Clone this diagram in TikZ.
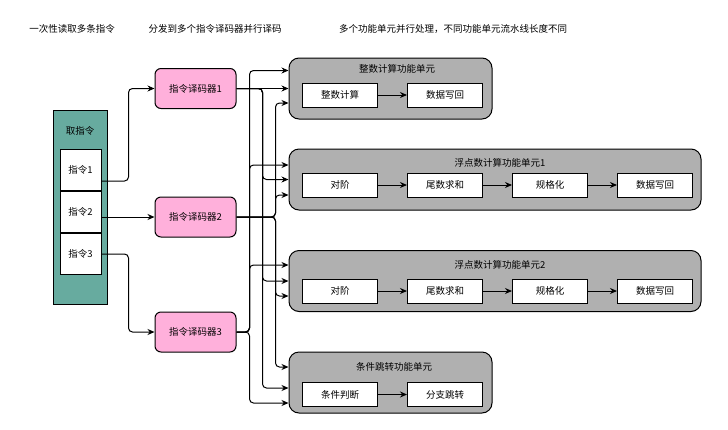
\documentclass[tikz,border=0pt]{standalone}
\usepackage{fontspec}
\setmainfont{Noto Sans CJK SC}
\usetikzlibrary{positioning, arrows.meta}
\definecolor{fetchgreen}{HTML}{67AB9F}
\definecolor{decpink}{HTML}{FFB0DB}
\definecolor{unitgray}{HTML}{B0B0B0}

\begin{document}
\begin{tikzpicture}[x=1pt, y=-1pt, > = {Stealth[length=7pt, width=6pt]},
    font=\fontsize{9.5}{11}\selectfont, line width=1pt,
    fetch/.style={draw, fill=fetchgreen, minimum width=54pt, minimum height=194pt},
    slot/.style={draw, fill=white, minimum width=41pt, minimum height=41pt, inner sep=0pt},
    decoder/.style={draw, fill=decpink, rounded corners=6pt, minimum width=81pt, minimum height=40pt},
    unit/.style={draw, fill=unitgray, rounded corners=10pt, minimum height=61pt},
    stage/.style={draw, fill=white, minimum width=75pt, minimum height=24pt, inner sep=0pt},
    bus/.style={->, rounded corners=4pt}
]
    \useasboundingbox (0,0) rectangle (728,429);

    % legendas
    \node (cap1) at (72,29) {一次性读取多条指令};
    \node (cap2) at (215,29) {分发到多个指令译码器并行译码};
    \node (cap3) at (453,29) {多个功能单元并行处理，不同功能单元流水线长度不同};

    % 取指令
    \node [fetch] (fetch) at (80,207) {};
    \node (fetchlbl) at (80,131) {取指令};
    \node [slot] (i1) at (80.5,170) {指令1};
    \node [slot, below=0pt of i1] (i2) {指令2};
    \node [slot, below=0pt of i2] (i3) {指令3};

    % 译码器
    \node [decoder] (d1) at (195.5,88.5) {指令译码器1};
    \node [decoder] (d2) at (195.5,217) {指令译码器2};
    \node [decoder] (d3) at (195.5,332) {指令译码器3};

    % 功能单元
    \node [unit, minimum width=203pt] (u1) at (390.5,88.5) {};
    \node [unit, minimum width=412pt] (u2) at (495,179.5) {};
    \node [unit, minimum width=412pt] (u3) at (495,281) {};
    \node [unit, minimum width=203pt] (u4) at (390.5,382.5) {};

    \node (u1t) at (397,69) {整数计算功能单元};
    \node (u2t) at (500,163) {浮点数计算功能单元1};
    \node (u3t) at (500,265) {浮点数计算功能单元2};
    \node (u4t) at (394,367) {条件跳转功能单元};

    \node [stage] (s11) at (340,95) {整数计算};
    \node [stage, right=29pt of s11] (s12) {数据写回};

    \node [stage] (s21) at (340,185) {对阶};
    \node [stage, right=29pt of s21] (s22) {尾数求和};
    \node [stage, right=29pt of s22] (s23) {规格化};
    \node [stage, right=29pt of s23] (s24) {数据写回};

    \node [stage] (s31) at (340,291) {对阶};
    \node [stage, right=29pt of s31] (s32) {尾数求和};
    \node [stage, right=29pt of s32] (s33) {规格化};
    \node [stage, right=29pt of s33] (s34) {数据写回};

    \node [stage] (s41) at (340,394.5) {条件判断};
    \node [stage, right=29pt of s41] (s42) {分支跳转};

    % pipeline
    \draw [->] (s11) -- (s12);
    \draw [->] (s21) -- (s22);
    \draw [->] (s22) -- (s23);
    \draw [->] (s23) -- (s24);
    \draw [->] (s31) -- (s32);
    \draw [->] (s32) -- (s33);
    \draw [->] (s33) -- (s34);
    \draw [->] (s41) -- (s42);

    % 取指令 -> 译码器
    \draw [bus] ([yshift=-11pt]i1.east) -- ++(27,0) |- (d1.west);
    \draw [->] (i2.east |- d2.west) -- (d2.west);
    \draw [bus] (i3.east) -- ++(27,0) |- (d3.west);

    % 译码器 -> 功能单元
    \draw [->] (d1.east) -- (u1.west |- d1.east);
    \draw [bus] (d1.east) -- ++(26,0) |- (u2.west);
    \draw [bus] (d1.east) -- ++(26,0) |- (u3.west);
    \draw [bus] (d1.east) -- ++(26,0) |- ([yshift=-5.5pt]u4.west);

    \draw [bus] (d2.east) -- ++(39,0) |- ([yshift=-14.5pt]u1.west);
    \draw [bus] (d2.east) -- ++(39,0) |- ([yshift=-15.5pt]u2.west);
    \draw [bus] (d2.east) -- ++(39,0) |- ([yshift=-15pt]u3.west);
    \draw [bus] (d2.east) -- ++(39,0) |- ([yshift=15.5pt]u4.west);

    \draw [bus] (d3.east) -- ++(13,0) |- ([yshift=18pt]u1.west);
    \draw [bus] (d3.east) -- ++(13,0) |- ([yshift=14.5pt]u2.west);
    \draw [bus] (d3.east) -- ++(13,0) |- ([yshift=16pt]u3.west);
    \draw [bus] (d3.east) -- ++(13,0) |- ([yshift=-20.5pt]u4.west);
\end{tikzpicture}
\end{document}
